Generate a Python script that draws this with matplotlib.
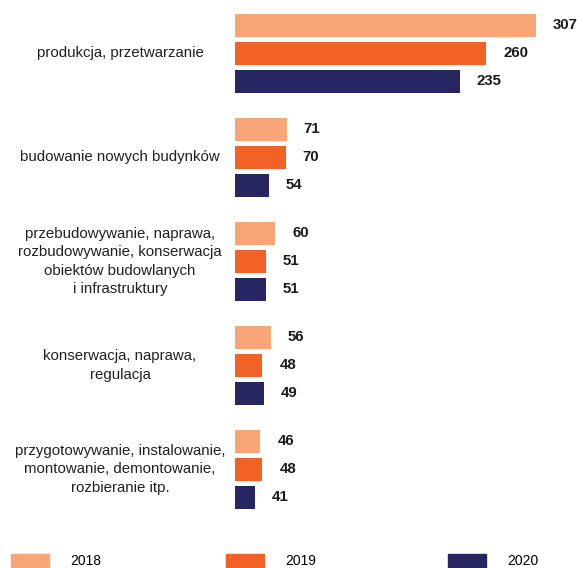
import numpy as np
import matplotlib.pyplot as plt
from matplotlib.patches import Patch
from matplotlib.transforms import blended_transform_factory

plt.rcParams['font.family'] = ['Liberation Sans', 'DejaVu Sans']

categories = [
    "produkcja, przetwarzanie",
    "budowanie nowych budynków",
    "przebudowywanie, naprawa,\nrozbudowywanie, konserwacja\nobiektów budowlanych\ni infrastruktury",
    "konserwacja, naprawa,\nregulacja",
    "przygotowywanie, instalowanie,\nmontowanie, demontowanie,\nrozbieranie itp.",
]
years = ["2018", "2019", "2020"]
v2018 = [307, 71, 60, 56, 46]
v2019 = [260, 70, 51, 48, 48]
v2020 = [235, 54, 51, 49, 41]
colors = ["#F8A577", "#F26126", "#272660"]

W, H = 577, 568
fig = plt.figure(figsize=(W / 100, H / 100), dpi=100)
ax = fig.add_axes([235 / W, 38 / H, 342 / W, 530 / H])

y = np.arange(len(categories))
offset = 0.269
height = 0.218
series = [v2018, v2019, v2020]
for k, (vals, col) in enumerate(zip(series, colors)):
    pos = y + (k - 1) * offset
    bars = ax.barh(pos, vals, height=height, color=col, label=years[k])
    for b, v in zip(bars, vals):
        ax.annotate(str(v), (v, b.get_y() + b.get_height() / 2),
                    xytext=(12.2, 0), textcoords="offset points",
                    ha="left", va="center", fontsize=10.8, fontweight="bold",
                    color="#1a1a1a", annotation_clip=False)

ax.set_xlim(22, 22 + 342 / 1.056)
ax.set_ylim(4.582, -0.514)
ax.axis("off")

# category names centred in the left margin
tr = blended_transform_factory(fig.transFigure, ax.transData)
for yi, name in zip(y, categories):
    ax.text(120 / W, yi, name, transform=tr, ha="center", va="center",
            fontsize=10.8, color="#231F20", linespacing=1.42)

# one legend entry per year, spread along the bottom edge
for x0, col, yr in zip([11, 226, 448], colors, years):
    fig.legend([Patch(color=col)], [yr], loc="center left",
               bbox_to_anchor=(x0 / W, 1 - 561 / H), frameon=False,
               borderpad=0, borderaxespad=0, handlelength=2.74,
               handleheight=1.2, handletextpad=1.51, fontsize=10)

fig.savefig("out.png", dpi=100)
